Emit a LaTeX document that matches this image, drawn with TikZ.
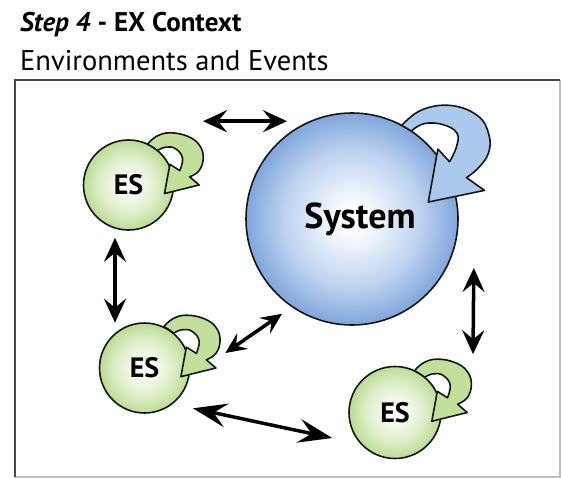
\documentclass[tikz,border=0pt]{standalone}
\usepackage{fontspec}
\setmainfont{PT Sans}
\usetikzlibrary{arrows.meta}

\definecolor{outline}{RGB}{22,22,22}
\definecolor{esin}{RGB}{252,254,250}
\definecolor{esmid}{RGB}{222,238,200}
\definecolor{esedge}{RGB}{188,219,150}
\definecolor{escurlfill}{RGB}{194,223,156}
\definecolor{sysin}{RGB}{253,254,255}
\definecolor{sysmid}{RGB}{190,211,240}
\definecolor{sysedge}{RGB}{128,166,219}
\definecolor{syscurlfill}{RGB}{170,201,237}
\definecolor{framedarkc}{RGB}{70,70,70}
\definecolor{framelightc}{RGB}{190,190,190}

\pgfdeclareradialshading{esshade}{\pgfpointorigin}{%
  color(0bp)=(esin); color(3bp)=(esin); color(16bp)=(esmid);
  color(25bp)=(esedge); color(50bp)=(esedge)}
\pgfdeclareradialshading{sysshade}{\pgfpointorigin}{%
  color(0bp)=(sysin); color(3bp)=(sysin); color(16bp)=(sysmid);
  color(25bp)=(sysedge); color(50bp)=(sysedge)}

\tikzset{
  esball/.style={circle, draw=outline, line width=1.6pt, minimum size=90pt,
    inner sep=0pt, shading=esshade, font=\fontsize{28}{30}\selectfont\bfseries},
  sysball/.style={circle, draw=outline, line width=1.6pt, minimum size=212pt,
    inner sep=0pt, shading=sysshade, font=\fontsize{36}{40}\selectfont\bfseries},
  curl/.style={draw=outline, line width=1.6pt, line join=round},
  link/.style={line width=3.5pt, draw=black,
    {Stealth[length=24pt,width=22pt,inset=9pt]}-{Stealth[length=24pt,width=22pt,inset=9pt]}},
  midlink/.style={line width=3.5pt, draw=black,
    {Stealth[length=21pt,width=19pt,inset=8pt]}-{Stealth[length=21pt,width=19pt,inset=8pt]}},
  biglink/.style={line width=3.5pt, draw=black,
    {Stealth[length=34pt,width=24pt,inset=13pt]}-{Stealth[length=34pt,width=24pt,inset=13pt]}},
  framedark/.style={line width=2.5pt, draw=framedarkc},
  framelight/.style={line width=1.5pt, draw=framelightc},
  % self-loop arrow of an ES circle, in units of the circle radius
  escurl/.pic={
    \filldraw[curl, fill=escurlfill]
      (65:1) -- plot[smooth, tension=0.7] coordinates {(0.423,0.906) (0.62,1.08)
        (0.92,1.16) (1.32,1.08) (1.58,0.88) (1.66,0.60) (1.57,0.32) (1.36,0.18)}
      -- (1.57,0.0) -- (0.80,-0.19) -- (0.92,0.46) -- (1.14,0.32)
      -- plot[smooth, tension=0.7] coordinates {(1.14,0.32) (1.20,0.60) (1.04,0.81)
        (0.82,0.84) (0.643,0.766)}
      arc[start angle=50, end angle=65, radius=1] -- cycle;
  },
  % self-loop arrow of the system circle, in units of its radius
  syscurl/.pic={
    \filldraw[curl, fill=syscurlfill]
      (62:1) -- plot[smooth, tension=0.7] coordinates {(0.469,0.883) (0.66,1.03)
        (0.94,1.07) (1.19,0.97) (1.29,0.80) (1.29,0.63) (1.20,0.49) (1.08,0.39)}
      -- (1.25,0.27) -- (0.72,0.16) -- (0.81,0.66) -- (0.92,0.54)
      -- plot[smooth, tension=0.7] coordinates {(0.92,0.54) (0.985,0.68) (0.99,0.81)
        (0.86,0.89) (0.68,0.90) (0.559,0.829)}
      arc[start angle=56, end angle=62, radius=1] -- cycle;
  },
}

\begin{document}
\begin{tikzpicture}[x=1pt, y=-1pt]
\useasboundingbox (0,0) rectangle (561,478);
\fill[white] (0,0) rectangle (561,478);

% headings
\node[anchor=base west, inner sep=0pt, font=\fontsize{27}{30}\selectfont\bfseries]
  (title) at (20,32) {\textit{Step 4} - EX Context};
\node[anchor=base west, inner sep=0pt, font=\fontsize{28.5}{32}\selectfont]
  (subtitle) at (20,71) {Environments and Events};

% frame
\draw[framelight] (15,477) -- (560,477) -- (560,80);
\draw[framedark] (15,477) -- (15,80) -- (560,80);

% circles
\node[sysball] (sys) at (352,219) {\kern16pt System};
\node[esball] (es1) at (128.5,185) {ES};
\node[esball] (es2) at (144.5,368) {ES};
\node[esball, minimum size=92pt] (es3) at (395,412.5) {ES};

% self-loops
\pic[x=106pt, y=106pt] at (sys.center) {syscurl};
\pic[x=45pt, y=45pt] at (es1.center) {escurl};
\pic[x=45.5pt, y=45.5pt] at (es2.center) {escurl};
\pic[x=46pt, y=46pt] at (es3.center) {escurl};

% exchanges
\draw[link] ([shift={(74.5,-18)}]es1.north) -- ([shift={(-65,9)}]sys.north);
\draw[link] ([shift={(-13.5,7)}]es1.south) -- ([shift={(-29.5,0.5)}]es2.north);
\draw[midlink] ([shift={(35,-15)}]es2.east) -- ([shift={(-70,-12)}]sys.south);
\draw[link] ([shift={(15,49)}]sys.east) -- ([shift={(78,-11.5)}]es3.north);
\draw[biglink] ([shift={(48.5,-5.5)}]es2.south) -- ([shift={(-16,25.5)}]es3.west);
\end{tikzpicture}
\end{document}
